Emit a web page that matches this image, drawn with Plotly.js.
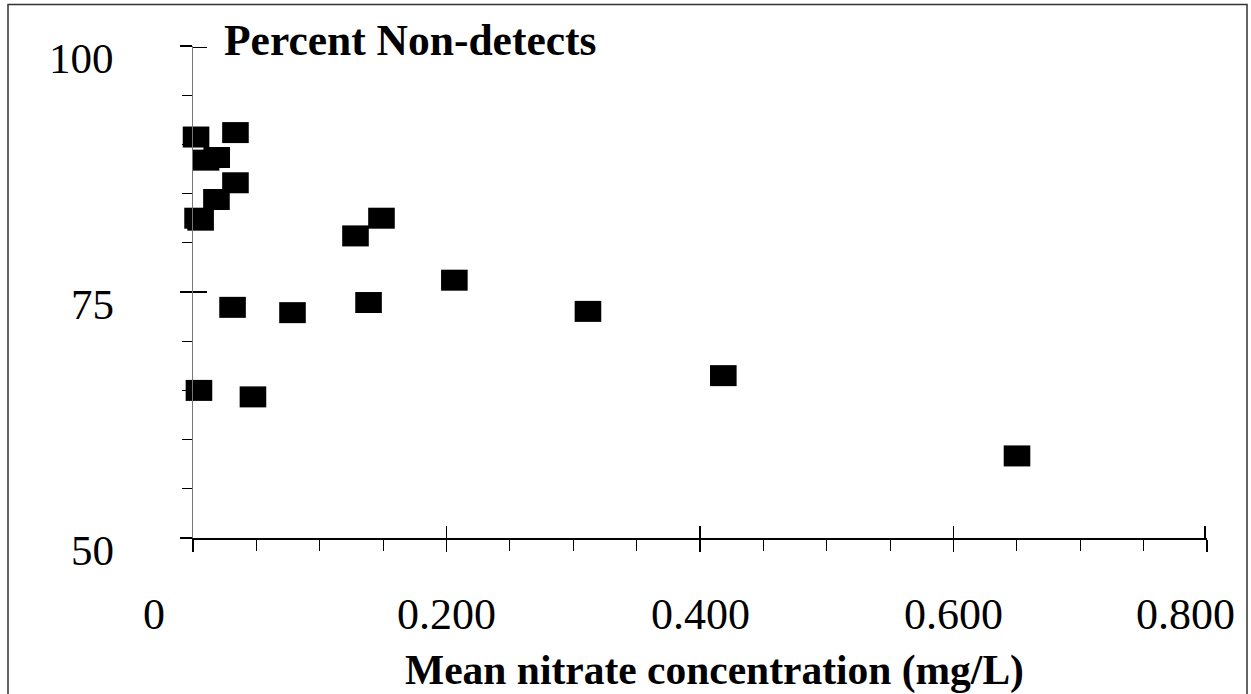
<!DOCTYPE html>
<html>
<head>
<meta charset="utf-8">
<script src="https://cdn.plot.ly/plotly-3.0.1.min.js"></script>
<style>
  html, body { margin: 0; padding: 0; background: #fff; }
  #chart { width: 1251px; height: 694px; }
</style>
</head>
<body>
<div id="chart"></div>
<script>
// Mean nitrate concentration (mg/L)
var nitrate = [0.0024, 0.0335, 0.0103, 0.0187, 0.0335, 0.0185, 0.0036, 0.0060, 0.1282, 0.1487,
               0.0312, 0.0785, 0.1385, 0.0047, 0.0473, 0.2062, 0.3116, 0.4184, 0.6501];
// Percent non-detects
var percentNonDetects = [90.75, 91.2, 88.4, 88.67, 86.1, 84.4, 82.5, 82.3, 80.7, 82.5,
                         73.44, 72.9, 73.93, 65.0, 64.34, 76.2, 73.03, 66.5, 58.34];

var xTickVals = [0, 0.2, 0.4, 0.6, 0.8];
var xTickText = ['0', '0.200', '0.400', '0.600', '0.800'];
var yTickVals = [50, 75, 100];
var yTickText = ['50', '75', '100'];

var yTitle = 'Percent Non-detects';
var xTitle = 'Mean nitrate concentration (mg/L)';

var serif = '"Liberation Serif", "Times New Roman", Times, serif';

var traces = [
  {
    type: 'scatter',
    mode: 'markers',
    x: nitrate,
    y: percentNonDetects,
    cliponaxis: false,
    marker: {
      symbol: 'line-ew',
      size: 19,
      color: '#000',
      line: { color: '#000', width: 21 }
    },
    hoverinfo: 'x+y',
    showlegend: false
  },
  { type: 'scatter', mode: 'markers', x: [], y: [], xaxis: 'x2', yaxis: 'y2', showlegend: false, hoverinfo: 'skip' }
];

var annotations = [];
// y tick labels, tied to the y scale (they sit slightly below their ticks)
yTickVals.forEach(function (v, i) {
  annotations.push({
    xref: 'paper', yref: 'y',
    x: (116 - 193) / 1014, y: v,
    xanchor: 'right', yanchor: 'middle',
    yshift: -12,
    text: yTickText[i],
    showarrow: false,
    font: { family: serif, size: 43, color: '#000' }
  });
});
// x tick labels, tied to the x scale (first and last nudged left as in the original)
var xLabelShift = [-39, 0, 0, 0, -22];
xTickVals.forEach(function (v, i) {
  annotations.push({
    xref: 'x', yref: 'paper',
    x: v, y: (538 - 614) / 492,
    xanchor: 'center', yanchor: 'middle',
    xshift: xLabelShift[i],
    text: xTickText[i],
    showarrow: false,
    font: { family: serif, size: 44, color: '#000' }
  });
});
annotations.push({
  xref: 'paper', yref: 'paper',
  x: (714 - 193) / 1014, y: (538 - 670) / 492,
  xanchor: 'center', yanchor: 'middle',
  text: '<b>' + xTitle + '</b>',
  showarrow: false,
  font: { family: serif, size: 41.5, color: '#000' }
});

var layout = {
  width: 1251,
  height: 694,
  margin: { l: 193, r: 44, t: 46, b: 156 },
  paper_bgcolor: '#fff',
  plot_bgcolor: 'rgba(0,0,0,0)',
  showlegend: false,
  font: { family: serif, color: '#000' },
  title: {
    text: '<b>' + yTitle + '</b>',
    font: { family: serif, size: 43.5, color: '#000' },
    xref: 'container', yref: 'container',
    x: 224 / 1251, xanchor: 'left',
    y: 1 - 40 / 694, yanchor: 'middle'
  },
  xaxis: {
    range: [0, 0.8],
    tickmode: 'array',
    tickvals: xTickVals,
    ticktext: xTickText,
    showticklabels: false,
    ticks: 'outside', ticklen: 12, tickwidth: 1.5, tickcolor: '#000',
    minor: { dtick: 0.05, tick0: 0, ticks: 'outside', ticklen: 11, tickwidth: 1, tickcolor: '#000' },
    showline: true, linecolor: '#000', linewidth: 1.5,
    showgrid: false, zeroline: false,
    fixedrange: true
  },
  yaxis: {
    range: [50, 100],
    tickmode: 'array',
    tickvals: yTickVals,
    ticktext: yTickText,
    showticklabels: false,
    ticks: 'outside', ticklen: 12, tickwidth: 1.5, tickcolor: '#000',
    minor: { dtick: 5, tick0: 50, ticks: 'outside', ticklen: 10, tickwidth: 1, tickcolor: '#000' },
    showline: true, linecolor: '#777', linewidth: 1.5,
    showgrid: false, zeroline: false,
    fixedrange: true
  },
  // overlay axes that draw the inner half of the major (crossing) ticks;
  // end ticks nudged a hair inside the range so Plotly keeps them
  xaxis2: {
    overlaying: 'x', anchor: 'y2', side: 'bottom',
    range: [0, 0.8], tickmode: 'array', tickvals: [0.2, 0.4, 0.6, 0.7985],
    ticks: 'inside', ticklen: 12, tickwidth: 1.5, tickcolor: '#000',
    showticklabels: false, showline: false, showgrid: false, zeroline: false,
    fixedrange: true
  },
  yaxis2: {
    overlaying: 'y', anchor: 'x2', side: 'left',
    range: [50, 100], tickmode: 'array', tickvals: [75, 99.85],
    ticks: 'inside', ticklen: 14, tickwidth: 1.5, tickcolor: '#000',
    showticklabels: false, showline: false, showgrid: false, zeroline: false,
    fixedrange: true
  },
  annotations: annotations,
  shapes: [
    {
      type: 'rect', xref: 'paper', yref: 'paper',
      x0: (8 - 193) / 1014, x1: (1247 - 193) / 1014,
      y0: (538 - 720) / 492, y1: (538 - 4.5) / 492,
      line: { color: '#333', width: 1.5 },
      fillcolor: 'rgba(0,0,0,0)',
      layer: 'below'
    }
  ]
};

Plotly.newPlot('chart', traces, layout, { displayModeBar: false, staticPlot: true });
</script>
</body>
</html>
